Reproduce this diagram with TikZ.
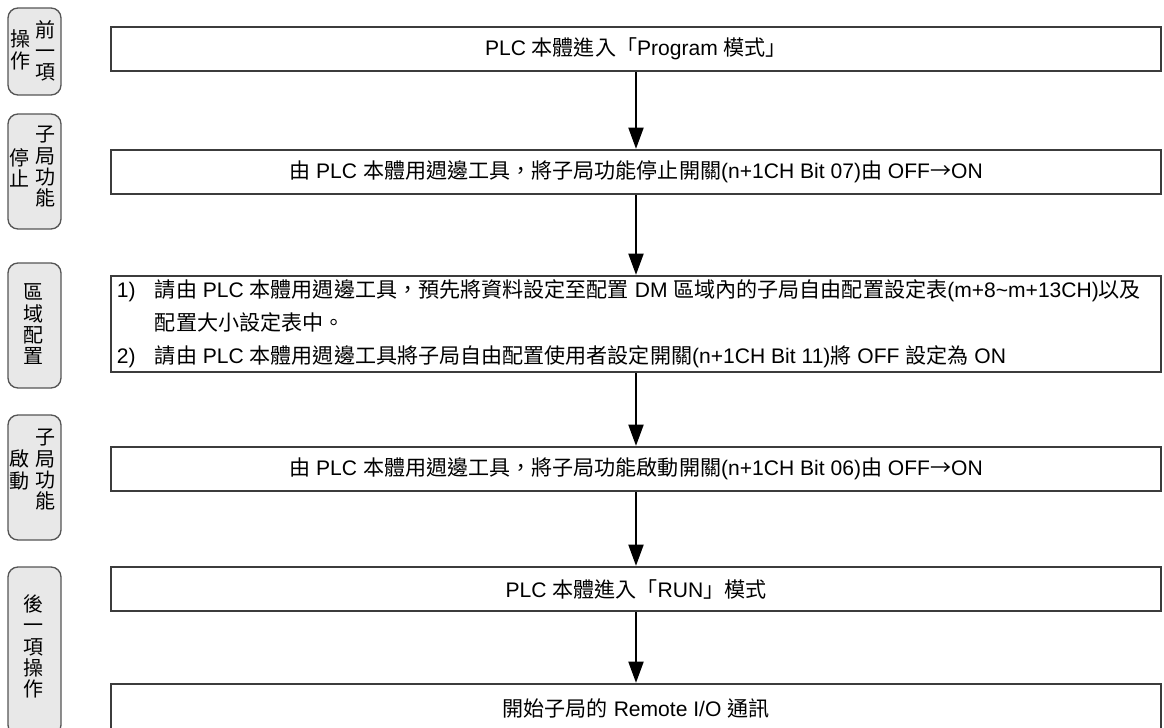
\documentclass[tikz,border=0pt]{standalone}
\usepackage{fontspec}
\setmainfont{Liberation Sans}
\newfontfamily\cjkfont{Noto Sans CJK TC}
\newfontfamily\latinfont{Liberation Sans}
\usepackage{tikz}
\usetikzlibrary{positioning, arrows.meta}
\definecolor{boxgray}{RGB}{60,60,60}
\definecolor{tabfill}{RGB}{232,232,232}
\definecolor{tabline}{RGB}{85,85,85}

% Han characters and full-width punctuation in the CJK font
\newXeTeXintercharclass\cjkclass
\newcount\cjkcode
\newcommand\setcjkrange[2]{%
  \cjkcode=#1\relax
  \loop\ifnum\cjkcode<#2\relax
    \XeTeXcharclass\cjkcode=\cjkclass
    \advance\cjkcode by 1
  \repeat}
\setcjkrange{"2190}{"2200}
\setcjkrange{"3000}{"3040}
\setcjkrange{"4E00}{"A000}
\setcjkrange{"FF00}{"FFF0}
\XeTeXinterchartoks 0 \cjkclass = {\cjkfont}
\XeTeXinterchartoks 4095 \cjkclass = {\cjkfont}
\XeTeXinterchartoks \cjkclass 0 = {\latinfont}
\XeTeXinterchartoks \cjkclass 4095 = {\latinfont}
\XeTeXinterchartokenstate=1

\begin{document}
\begin{tikzpicture}[x=0.75pt, y=-0.75pt,
  stepbox/.style={rectangle, draw=boxgray, line width=1.5pt, fill=white,
    minimum width=787.5pt, minimum height=33pt, inner sep=0pt,
    font=\fontsize{15.8pt}{18pt}\selectfont},
  sidetab/.style={rectangle, rounded corners=7.5pt, draw=tabline,
    line width=1pt, fill=tabfill, minimum width=39.75pt, inner sep=0pt},
  tabtext/.style={align=center, inner sep=0pt,
    font=\cjkfont\fontsize{15pt}{16pt}\selectfont},
  flow/.style={-{Triangle[width=11pt,length=16pt]}, line width=2.2pt, black}
]
  \useasboundingbox (0,0) rectangle (1164,728);
  \clip (0,0) rectangle (1164,728);

  % side tabs
  \node[sidetab, minimum height=65.25pt] (t1) at (34.5,51.5) {};
  \node[tabtext] (t1r) at (45,51) {前\\一\\項};
  \node[tabtext] (t1l) at (20,50) {操\\作};

  \node[sidetab, minimum height=86.25pt] (t2) at (34.5,171.5) {};
  \node[tabtext] (t2r) at (45,167) {子\\局\\功\\能};
  \node[tabtext] (t2l) at (19.5,168) {停\\止};

  \node[sidetab, minimum height=93.75pt] (t3) at (34.5,325.5) {};
  \node[tabtext] (t3c) at (33,324.5) {區\\域\\配\\置};

  \node[sidetab, minimum height=93.75pt] (t4) at (34.5,477.5) {};
  \node[tabtext] (t4r) at (45,470) {子\\局\\功\\能};
  \node[tabtext] (t4l) at (19.5,470) {啟\\動};

  \node[sidetab, minimum height=126pt] (t5) at (34.5,651) {};
  \node[tabtext] (t5c) at (33,646.5) {後\\一\\項\\操\\作};

  % steps
  \node[stepbox] (s1) at (636,49) {PLC 本體進入「Program 模式」};
  \node[stepbox] (s2) at (636,172) {由 PLC 本體用週邊工具，將子局功能停止開關(n+1CH Bit 07)由 OFF→ON};
  \node[stepbox, minimum height=72pt] (s3) at (636,324) {};
  \node[anchor=west, align=left, inner sep=0pt,
    font=\fontsize{15.8pt}{24.75pt}\selectfont] (s3t) at ([xshift=5pt]s3.west)
    {\makebox[28.5pt][l]{1)}請由 PLC 本體用週邊工具，預先將資料設定至配置 DM 區域內的子局自由配置設定表(m+8\textasciitilde m+13CH)以及\\
     \hspace*{28.5pt}配置大小設定表中。\\
     \makebox[28.5pt][l]{2)}請由 PLC 本體用週邊工具將子局自由配置使用者設定開關(n+1CH Bit 11)將 OFF 設定為 ON};
  \node[stepbox] (s4) at (636,469) {由 PLC 本體用週邊工具，將子局功能啟動開關(n+1CH Bit 06)由 OFF→ON};
  \node[stepbox] (s5) at (636,589) {PLC 本體進入「RUN」模式};
  \node[stepbox, minimum height=36pt] (s6) at (636,708) {開始子局的 Remote I/O 通訊};

  \draw[flow] (s1.south) -- (s2.north);
  \draw[flow] (s2.south) -- (s3.north);
  \draw[flow] (s3.south) -- (s4.north);
  \draw[flow] (s4.south) -- (s5.north);
  \draw[flow] (s5.south) -- (s6.north);
\end{tikzpicture}
\end{document}
